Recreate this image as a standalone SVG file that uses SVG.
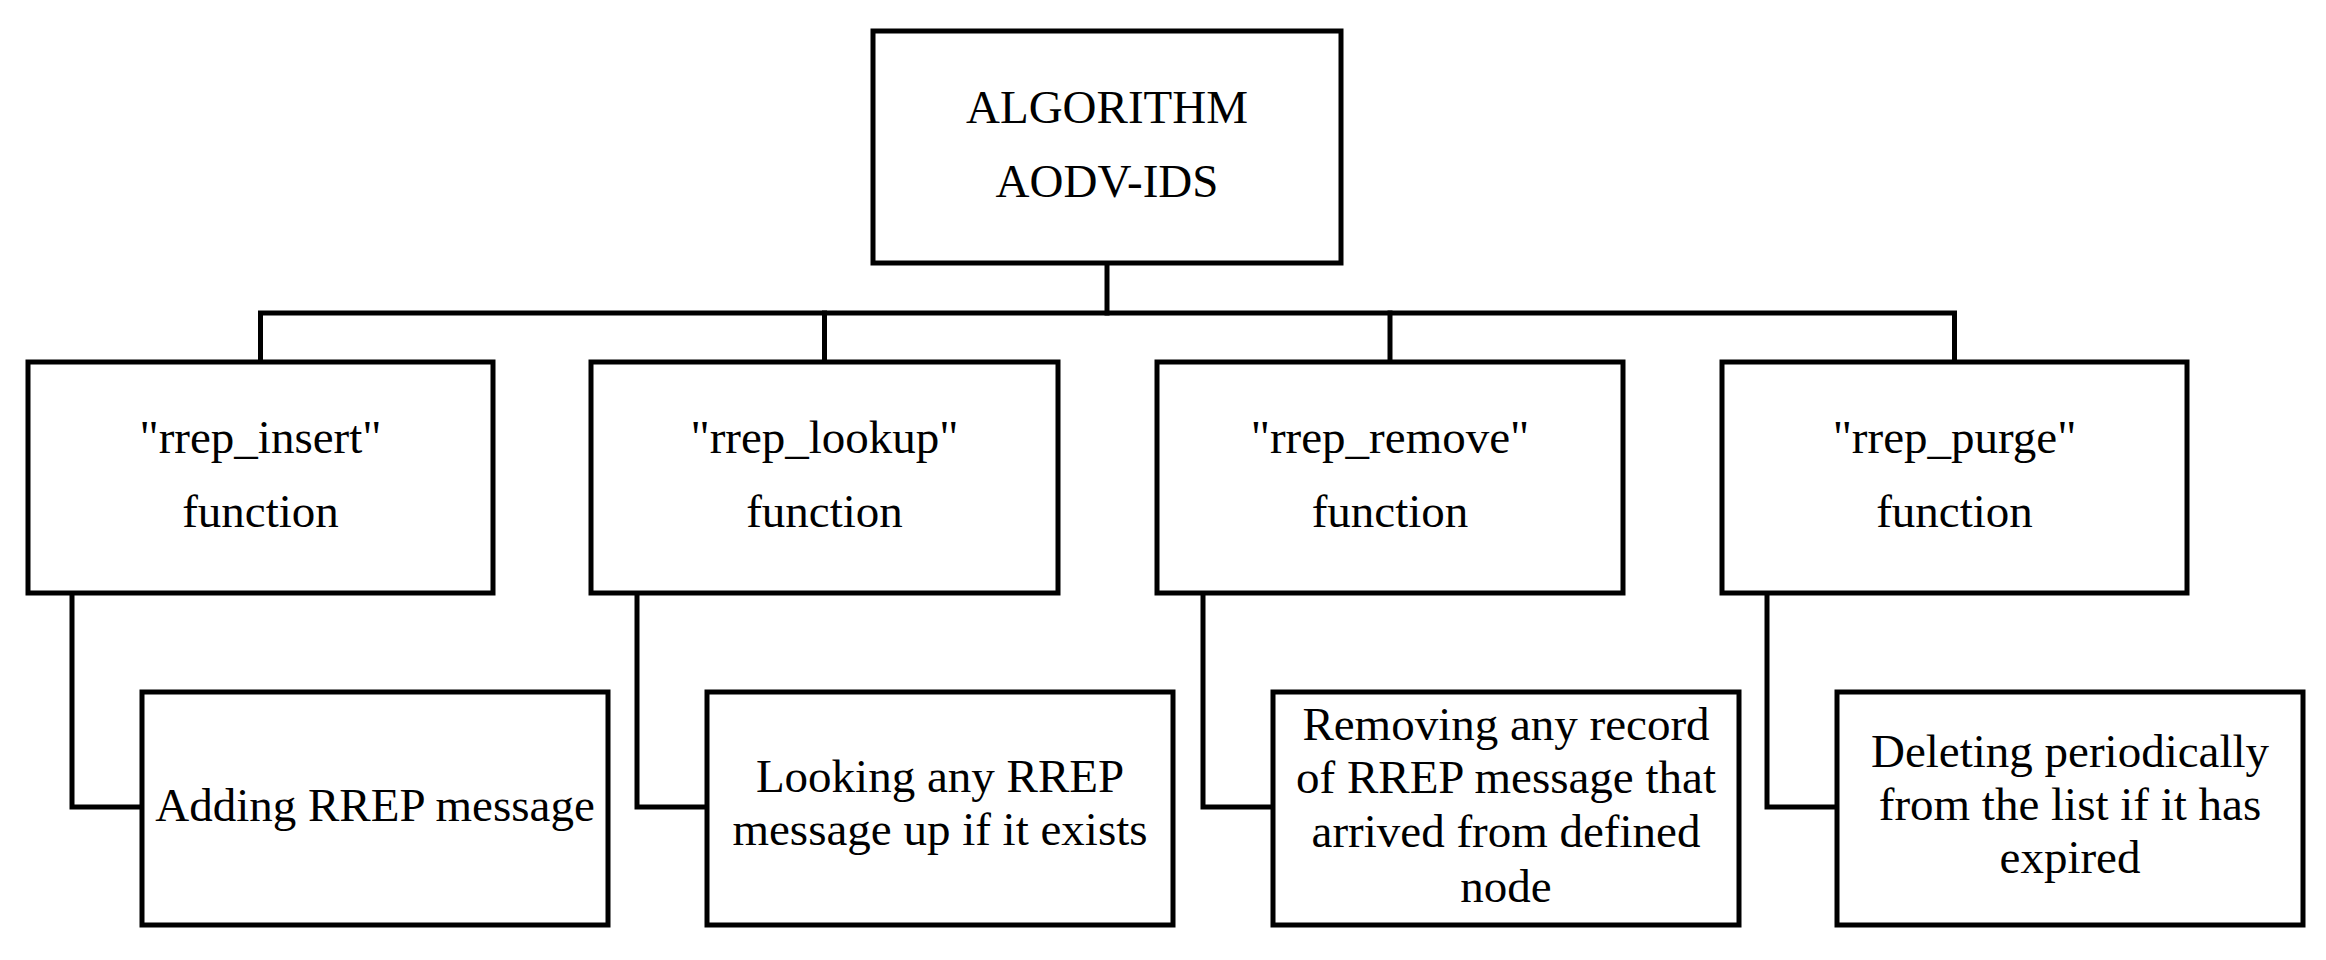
<svg xmlns="http://www.w3.org/2000/svg" width="2326" height="960" viewBox="0 0 2326 960">
<style>
.box{fill:#fff;stroke:#000;stroke-width:5}
.conn{fill:none;stroke:#000;stroke-width:5;stroke-linejoin:miter;stroke-linecap:square}
text{font-family:"Liberation Serif","Times New Roman",serif;font-size:47px;fill:#000;text-anchor:middle}
</style>
<rect width="2326" height="960" fill="#fff"/>
<g id="connectors">
<path class="conn" d="M1107,263 V313"/>
<path class="conn" d="M260.5,362 V313 H1954.5 V362"/>
<path class="conn" d="M824.5,313 V362"/>
<path class="conn" d="M1390,313 V362"/>
<path class="conn" d="M72,593 V807 H142"/>
<path class="conn" d="M637,593 V807 H707"/>
<path class="conn" d="M1203,593 V807 H1273"/>
<path class="conn" d="M1767,593 V807 H1837"/>
</g>
<g id="root">
<rect class="box" x="873" y="31" width="468" height="232"/>
<text x="1107" y="123">ALGORITHM</text>
<text x="1107" y="197">AODV-IDS</text>
</g>
<g id="rrep_insert">
<rect class="box" x="28" y="362" width="465" height="231"/>
<text x="260.5" y="453">"rrep_insert"</text>
<text x="260.5" y="527">function</text>
</g>
<g id="rrep_lookup">
<rect class="box" x="591" y="362" width="467" height="231"/>
<text x="824.5" y="453">"rrep_lookup"</text>
<text x="824.5" y="527">function</text>
</g>
<g id="rrep_remove">
<rect class="box" x="1157" y="362" width="466" height="231"/>
<text x="1390" y="453">"rrep_remove"</text>
<text x="1390" y="527">function</text>
</g>
<g id="rrep_purge">
<rect class="box" x="1722" y="362" width="465" height="231"/>
<text x="1954.5" y="453">"rrep_purge"</text>
<text x="1954.5" y="527">function</text>
</g>
<g id="insert_desc">
<rect class="box" x="142" y="692" width="466" height="233"/>
<text x="375" y="821">Adding RREP message</text>
</g>
<g id="lookup_desc">
<rect class="box" x="707" y="692" width="466" height="233"/>
<text x="940" y="792">Looking any RREP</text>
<text x="940" y="845">message up if it exists</text>
</g>
<g id="remove_desc">
<rect class="box" x="1273" y="692" width="466" height="233"/>
<text x="1506" y="740">Removing any record</text>
<text x="1506" y="793">of RREP message that</text>
<text x="1506" y="847">arrived from defined</text>
<text x="1506" y="902">node</text>
</g>
<g id="purge_desc">
<rect class="box" x="1837" y="692" width="466" height="233"/>
<text x="2070" y="767">Deleting periodically</text>
<text x="2070" y="820">from the list if it has</text>
<text x="2070" y="873">expired</text>
</g>
</svg>
